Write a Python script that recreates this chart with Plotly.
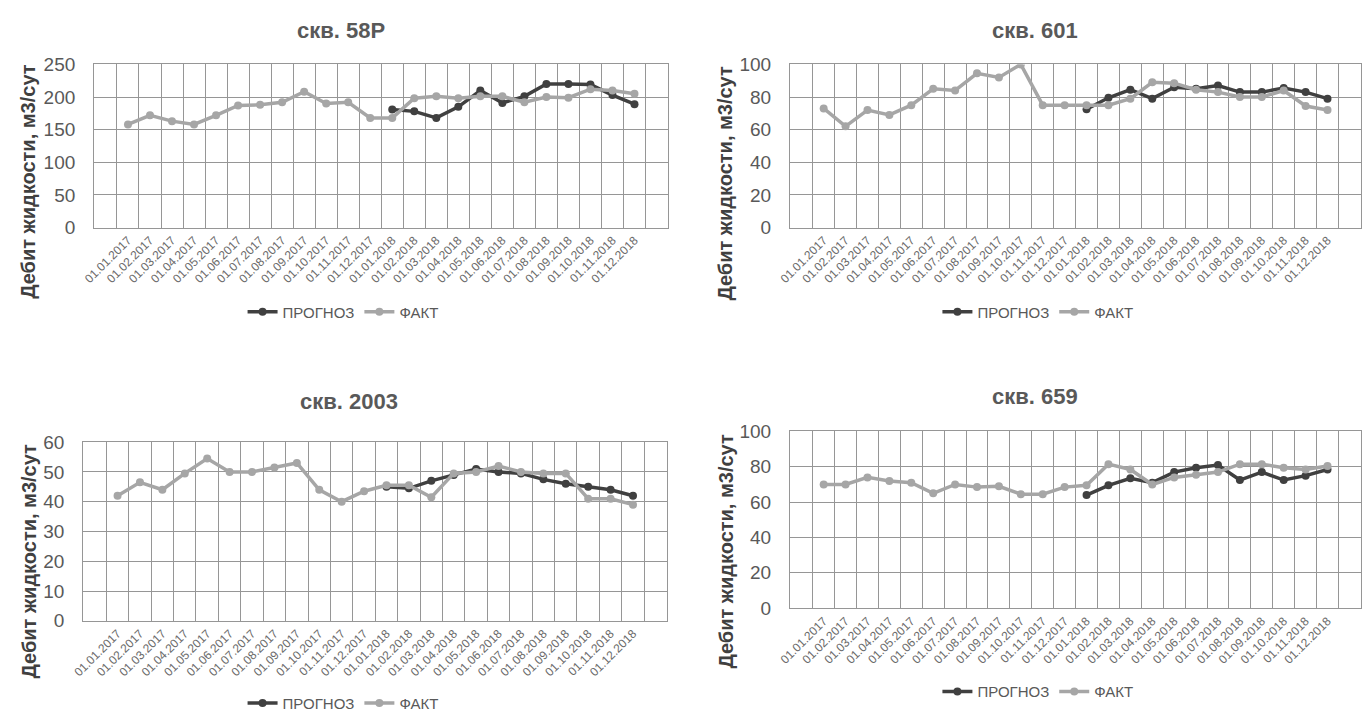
import plotly.graph_objects as go

# ---------------- data ----------------
dates = ["01.01.2017", "01.02.2017", "01.03.2017", "01.04.2017", "01.05.2017", "01.06.2017",
         "01.07.2017", "01.08.2017", "01.09.2017", "01.10.2017", "01.11.2017", "01.12.2017",
         "01.01.2018", "01.02.2018", "01.03.2018", "01.04.2018", "01.05.2018", "01.06.2018",
         "01.07.2018", "01.08.2018", "01.09.2018", "01.10.2018", "01.11.2018", "01.12.2018"]
forecast_dates = dates[12:]

fact_58 = [158, 172, 163, 158, 172, 187, 188, 192, 208, 190, 192, 168,
           168, 198, 201, 198, 201, 201, 192, 200, 199, 212, 210, 205]
prog_58 = [181, 178, 168, 185, 210, 191, 201, 220, 220, 219, 203, 189]

fact_601 = [73, 62, 72, 69, 75, 85, 84, 94.5, 92, 100, 75, 75,
            75, 75, 79, 89, 88.5, 84.5, 83, 80, 80, 84, 74.5, 72]
prog_601 = [72.5, 79.5, 84.5, 79, 86, 85, 87, 83, 83, 85.5, 83, 79]

fact_2003 = [42, 46.5, 44, 49.5, 54.5, 50, 50, 51.5, 53, 44, 40, 43.5,
             45.5, 45.5, 41.5, 49.5, 50, 52, 50, 49.5, 49.5, 41, 41, 39]
prog_2003 = [45, 44.5, 47, 49, 51, 50, 49.5, 47.5, 46, 45, 44, 42]

fact_659 = [70, 70, 74, 72, 71, 65, 70, 68.5, 69, 64.5, 64.5, 68.5,
            69.5, 81.5, 78.5, 70, 74, 75.5, 77, 81.5, 81.5, 79.5, 78.5, 80.5]
prog_659 = [64, 69.5, 73.5, 71, 77, 79.5, 81, 72.5, 77, 72.5, 75, 78.5]

titles = ["скв. 58Р", "скв. 601", "скв. 2003", "скв. 659"]
y_title = "Дебит жидкости, м3/сут"
legend_names = ["ПРОГНОЗ", "ФАКТ"]

# ---------------- layout helpers ----------------
W, H = 1368, 726
FONT = "Liberation Sans, Arial, sans-serif"
C_PROG = "#404040"
C_FACT = "#A6A6A6"
C_GRID = "#969696"
C_TEXT = "#595959"

panels = [
    dict(title=titles[0], fact=fact_58, prog=prog_58, ymax=250, dtick=50,
         xpx=(83, 662), ypx=(56, 224), t_xy=(332, 21), yt_xy=(16, 176), lg_xy=(334, 311)),
    dict(title=titles[1], fact=fact_601, prog=prog_601, ymax=100, dtick=20,
         xpx=(785, 1361), ypx=(56, 224), t_xy=(1032, 21), yt_xy=(719, 178), lg_xy=(1035, 311)),
    dict(title=titles[2], fact=fact_2003, prog=prog_2003, ymax=60, dtick=10,
         xpx=(72, 661), ypx=(445, 629), t_xy=(340, 403), yt_xy=(17, 567), lg_xy=(334, 714)),
    dict(title=titles[3], fact=fact_659, prog=prog_659, ymax=100, dtick=20,
         xpx=(785, 1361), ypx=(434, 616), t_xy=(1032, 398), yt_xy=(720, 557), lg_xy=(1035, 702)),
]

fig = go.Figure()
annotations = []
layout_axes = {}

for i, p in enumerate(panels, start=1):
    sfx = "" if i == 1 else str(i)
    lg = "legend" if i == 1 else f"legend{i}"
    fig.add_trace(go.Scatter(
        x=forecast_dates, y=p["prog"], name=legend_names[0], mode="lines+markers",
        line=dict(color=C_PROG, width=3.5), marker=dict(color=C_PROG, size=8),
        xaxis="x" + sfx, yaxis="y" + sfx, legend=lg))
    fig.add_trace(go.Scatter(
        x=dates, y=p["fact"], name=legend_names[1], mode="lines+markers",
        line=dict(color=C_FACT, width=3.5), marker=dict(color=C_FACT, size=8),
        xaxis="x" + sfx, yaxis="y" + sfx, legend=lg))

    x0, x1 = p["xpx"]
    yt, yb = p["ypx"]
    layout_axes["xaxis" + sfx] = dict(
        domain=[x0 / W, x1 / W], anchor="y" + sfx, type="category",
        categoryorder="array", categoryarray=dates, tickson="boundaries",
        showgrid=True, gridcolor=C_GRID, gridwidth=1.4,
        showline=True, linecolor=C_GRID, linewidth=1.4, mirror=True,
        ticks="", tickangle=-45, tickfont=dict(family=FONT, size=12, color="#6a6a6a"),
        fixedrange=True)
    layout_axes["yaxis" + sfx] = dict(
        domain=[1 - yb / H, 1 - yt / H], anchor="x" + sfx,
        range=[0, p["ymax"]], dtick=p["dtick"], tick0=0,
        showgrid=True, gridcolor=C_GRID, gridwidth=1.4, zeroline=False,
        showline=True, linecolor=C_GRID, linewidth=1.4, mirror=True,
        ticks="", ticklabelstandoff=14,
        tickfont=dict(family=FONT, size=19, color=C_TEXT), fixedrange=True)
    layout_axes[lg] = dict(
        x=p["lg_xy"][0] / W, y=1 - p["lg_xy"][1] / H, xanchor="center", yanchor="middle",
        orientation="h", font=dict(family=FONT, size=15, color=C_TEXT),
        bgcolor="rgba(0,0,0,0)", tracegroupgap=0)

    annotations.append(dict(
        text=f"<b>{p['title']}</b>", x=p["t_xy"][0] / W, y=1 - p["t_xy"][1] / H,
        xref="paper", yref="paper", xanchor="center", yanchor="middle",
        showarrow=False, font=dict(family=FONT, size=22, color=C_TEXT)))
    annotations.append(dict(
        text=f"<b>{y_title}</b>", x=p["yt_xy"][0] / W, y=1 - p["yt_xy"][1] / H,
        xref="paper", yref="paper", xanchor="center", yanchor="middle", textangle=-90,
        showarrow=False, font=dict(family=FONT, size=20, color=C_PROG)))

fig.update_layout(
    width=W, height=H, margin=dict(l=0, r=0, t=0, b=0),
    paper_bgcolor="white", plot_bgcolor="white",
    showlegend=True, annotations=annotations, **layout_axes)

fig.write_html(
    "out.html",
    config={"displayModeBar": False},
    post_script="document.body.style.margin='0';document.documentElement.style.overflow='hidden';document.body.style.overflow='hidden';")
